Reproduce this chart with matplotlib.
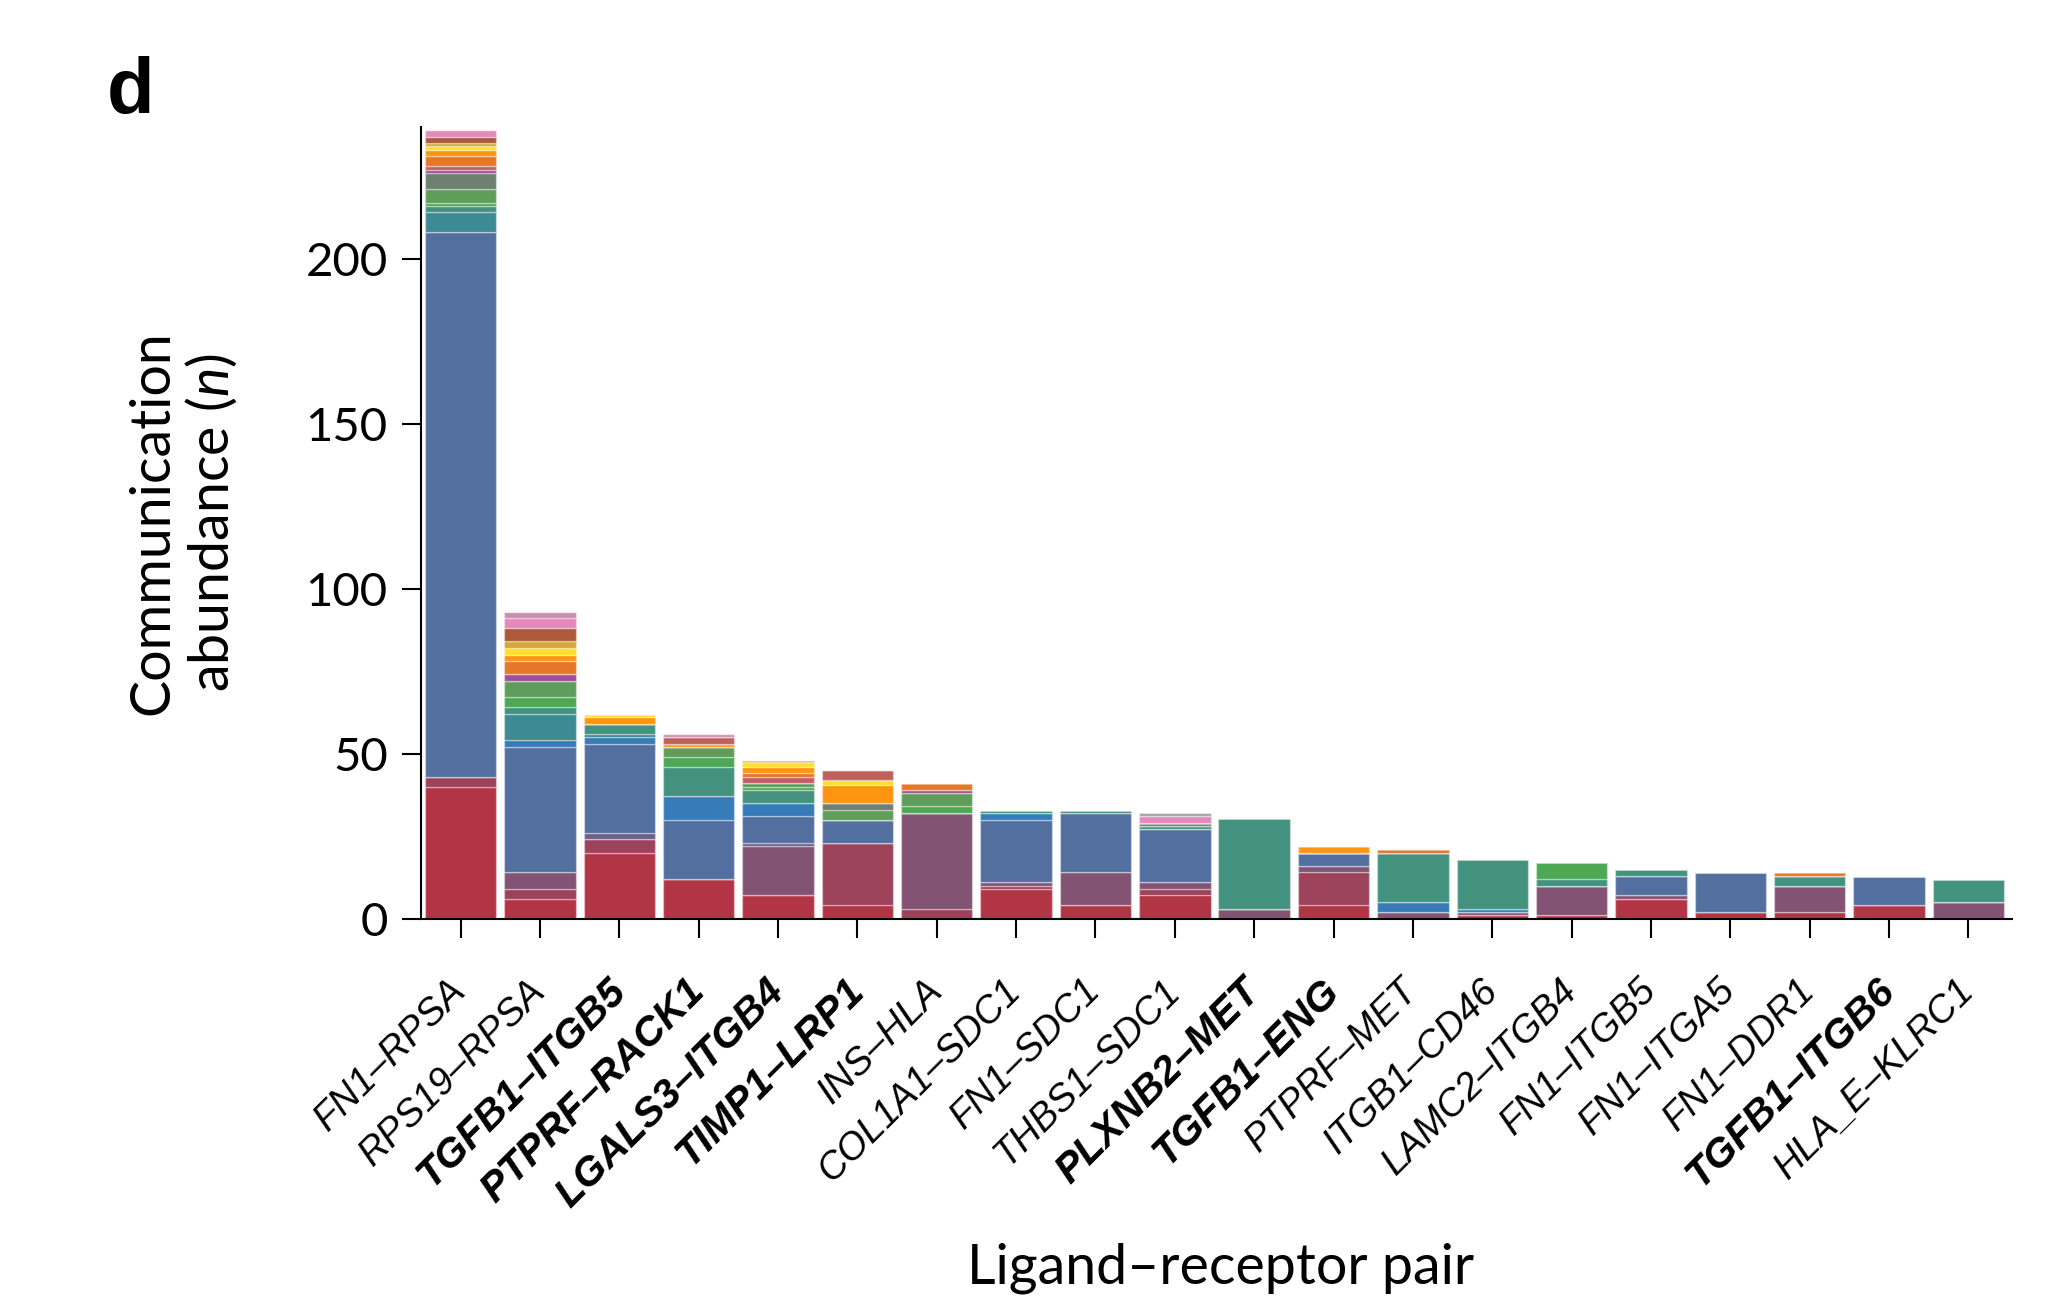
import matplotlib
matplotlib.use("Agg")
import matplotlib.pyplot as plt
import numpy as np

plt.rcParams['font.family'] = ['Lato', 'DejaVu Sans']
plt.rcParams['mathtext.fontset'] = 'custom'
plt.rcParams['mathtext.rm'] = 'Lato'
plt.rcParams['mathtext.it'] = 'Lato:italic'

# ligand-receptor pairs, in plotting order
pairs = ['FN1–RPSA', 'RPS19–RPSA', 'TGFB1–ITGB5', 'PTPRF–RACK1', 'LGALS3–ITGB4',
         'TIMP1–LRP1', 'INS–HLA', 'COL1A1–SDC1', 'FN1–SDC1', 'THBS1–SDC1',
         'PLXNB2–MET', 'TGFB1–ENG', 'PTPRF–MET', 'ITGB1–CD46', 'LAMC2–ITGB4',
         'FN1–ITGB5', 'FN1–ITGA5', 'FN1–DDR1', 'TGFB1–ITGB6', 'HLA_E–KLRC1']
bold_pairs = ['TGFB1–ITGB5', 'PTPRF–RACK1', 'LGALS3–ITGB4', 'TIMP1–LRP1',
              'PLXNB2–MET', 'TGFB1–ENG', 'TGFB1–ITGB6']

# stacked counts per colour group (bottom to top), one value per pair
red        = [40, 6, 20, 12, 7, 4, 0, 9, 4, 7, 0, 4, 0, 1, 1, 6, 2, 2, 4, 0]
raspberry  = [3, 3, 4, 0, 0, 19, 3, 1, 0, 2, 0, 10, 0, 0, 0, 0, 0, 0, 0, 0]
mauve      = [0, 5, 0, 0, 15, 0, 29, 1, 10, 2, 3, 2, 2, 1, 9, 1, 0, 8, 0, 5]
slate      = [0, 0, 2, 0, 1, 0, 0, 0, 0, 0, 0, 0, 0, 0, 0, 0, 0, 0, 0, 0]
blue       = [165, 38, 27, 18, 8, 7, 0, 19, 18, 16, 0, 4, 0, 0, 0, 6, 12, 0, 9, 0]
brightblue = [0, 2, 2, 7, 4, 0, 0, 2, 0, 0, 0, 0, 3, 1, 0, 0, 0, 0, 0, 0]
teal       = [6, 8, 1, 0, 0, 0, 0, 0, 0, 0, 0, 0, 0, 0, 0, 0, 0, 0, 0, 0]
greenteal  = [2, 2, 3, 9, 4, 0, 0, 1, 1, 1, 27.5, 0, 15, 15, 2, 2, 0, 3, 0, 7]
green      = [1, 3, 0, 3, 1, 0, 2, 0, 0, 0, 0, 0, 0, 0, 5, 0, 0, 0, 0, 0]
graygreen  = [4, 5, 0, 3, 1, 3, 4, 0, 0, 0, 0, 0, 0, 0, 0, 0, 0, 0, 0, 0]
gray       = [5, 0, 0, 0, 0, 2, 0, 0, 0, 1, 0, 0, 0, 0, 0, 0, 0, 0, 0, 0]
purple     = [1, 2, 0, 0, 0, 0, 1, 0, 0, 0, 0, 0, 0, 0, 0, 0, 0, 0, 0, 0]
salmon     = [1, 0, 0, 0, 2, 0, 0, 0, 0, 0, 0, 0, 0, 0, 0, 0, 0, 0, 0, 0]
darkorange = [3, 4, 0, 0, 1, 0, 2, 0, 0, 0, 0, 0, 1, 0, 0, 0, 0, 1, 0, 0]
orange     = [2, 2, 2, 1, 2, 5.5, 0, 0, 0, 0, 0, 2, 0, 0, 0, 0, 0, 0, 0, 0]
yellow     = [1, 2, 1, 0, 1.5, 1.5, 0, 0, 0, 0, 0, 0, 0, 0, 0, 0, 0, 0, 0, 0]
gold       = [1, 2, 0, 0, 0.5, 0, 0, 0, 0, 0, 0, 0, 0, 0, 0, 0, 0, 0, 0, 0]
rose       = [0, 0, 0, 2, 0, 3, 0, 0, 0, 0, 0, 0, 0, 0, 0, 0, 0, 0, 0, 0]
brown      = [2, 4, 0, 0, 0, 0, 0, 0, 0, 0, 0, 0, 0, 0, 0, 0, 0, 0, 0, 0]
pink       = [2, 3, 0, 0, 0, 0, 0, 0, 0, 2, 0, 0, 0, 0, 0, 0, 0, 0, 0, 0]
greypink   = [0, 2, 0, 1, 0, 0, 0, 0, 0, 0, 0, 0, 0, 0, 0, 0, 0, 0, 0, 0]
grey       = [0, 0, 0, 0, 0, 0, 0, 0, 0, 1, 0, 0, 0, 0, 0, 0, 0, 0, 0, 0]

groups = [(red, '#b23545'), (raspberry, '#9c425a'), (mauve, '#825373'),
          (slate, '#6a6089'), (blue, '#536f9f'), (brightblue, '#377cb9'),
          (teal, '#3d8994'), (greenteal, '#42927f'), (green, '#4ca855'),
          (graygreen, '#5f9e5a'), (gray, '#6e8070'), (purple, '#9a4f9a'),
          (salmon, '#c0606a'), (darkorange, '#e6762a'), (orange, '#ff9411'),
          (yellow, '#ffde2c'), (gold, '#d6a830'), (rose, '#c0605a'),
          (brown, '#ae5a3a'), (pink, '#e688bb'), (greypink, '#c990ac'),
          (grey, '#a3a3a3')]

fig = plt.figure(figsize=(20.72, 13.13), dpi=100)
ax = fig.add_axes([421/2072, 1-918.5/1313, (2012-421)/2072, (918.5-126.7)/1313])

x = np.arange(len(pairs))
bottom = np.zeros(len(pairs))
for vals, col in groups:
    v = np.array(vals, dtype=float)
    ax.bar(x, v, bottom=bottom, width=0.9, color=col,
           edgecolor=(1, 1, 1, 0.35), linewidth=1)
    bottom += v

ax.set_xlim(-0.5, 19.55)
ax.set_ylim(0, 240)
ax.set_yticks([0, 50, 100, 150, 200])
ax.spines['top'].set_visible(False)
ax.spines['right'].set_visible(False)
ax.spines['left'].set_linewidth(1.5)
ax.spines['bottom'].set_linewidth(1.5)
ax.tick_params(axis='both', length=14, width=1.5, color='black')
ax.tick_params(axis='y', labelsize=34, pad=10)
ax.tick_params(axis='x', pad=34)

ax.set_xticks(x)
ax.set_xticklabels(pairs, rotation=45, ha='right', va='center',
                   rotation_mode='anchor', family='Liberation Sans',
                   fontstyle='italic', fontsize=27.5)
for lab in ax.get_xticklabels():
    if lab.get_text() in bold_pairs:
        lab.set_fontweight('bold')
        lab.set_fontsize(29.5)

fig.text(0.0885, 0.6017, 'Communication\nabundance ($\\mathit{n}$)', rotation=90,
         ha='center', va='center', fontsize=40, linespacing=1.1)
fig.text(0.589, 0.034, 'Ligand–receptor pair', ha='center', va='center', fontsize=40)
fig.text(0.0516, 0.957, 'd', ha='left', va='top', fontsize=56,
         fontweight='bold', family='Liberation Sans')

fig.savefig('out.png', dpi=100)
